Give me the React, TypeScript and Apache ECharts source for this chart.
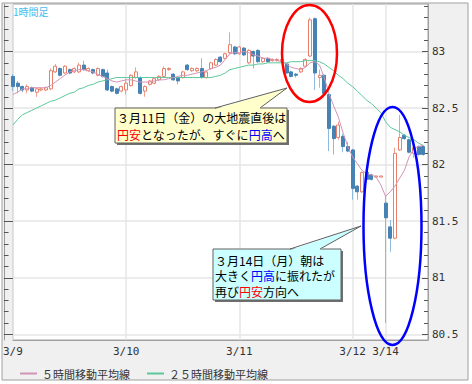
import React, { useEffect, useRef } from 'react';
import * as echarts from 'echarts';

// ---- data (USD/JPY hourly) ----
const dayLabels = ['3/9', '3/10', '3/11', '3/12', '3/14'];
const hoursInDay = [24, 24, 24, 7, 10]; // last hour of 3/14 is an empty slot
const categories: string[] = [];
dayLabels.forEach((d, k) => {
  for (let h = 0; h < hoursInDay[k]; h++) categories.push(`${d} ${h}:00`);
});

const openValues = [
  82.78, 82.72, 82.69, 82.66, 82.68, 82.64, 82.66, 82.66, 82.67, 82.82,
  82.85, 82.81, 82.84, 82.82, 82.82, 82.88, 82.83, 82.84, 82.79, 82.84,
  82.81, 82.69, 82.67, 82.65, 82.66, 82.70, 82.77, 82.77, 82.65, 82.71,
  82.72, 82.75, 82.78, 82.84, 82.80, 82.77, 82.77, 82.88, 82.83, 82.83,
  82.85, 82.77, 82.85, 82.88, 82.95, 82.94, 82.99, 83.04, 82.98, 83.03,
  82.90, 83.00, 83.01, 82.91, 82.94, 82.92, 82.92, 82.91, 82.89, 82.82,
  82.80, 82.82, 82.87, 82.96, 83.29, 82.77, 82.79, 82.62, 82.34, 82.24,
  82.25, 82.16, 82.13, 81.81, 81.76, 81.93, 81.91, 81.89, 81.89, 81.66,
  81.45, 81.35, 82.13, 82.26, 82.22, 82.10, 82.16, 82.16,
];
const closeValues = [
  82.69, 82.69, 82.66, 82.69, 82.65, 82.67, 82.67, 82.68, 82.83, 82.87,
  82.79, 82.87, 82.81, 82.85, 82.88, 82.84, 82.85, 82.81, 82.85, 82.78,
  82.66, 82.65, 82.63, 82.69, 82.72, 82.79, 82.82, 82.63, 82.69, 82.74,
  82.76, 82.78, 82.85, 82.85, 82.75, 82.74, 82.82, 82.84, 82.85, 82.85,
  82.77, 82.82, 82.90, 82.93, 82.91, 82.98, 83.06, 82.98, 83.04, 82.97,
  83.01, 82.96, 82.91, 82.94, 82.91, 82.93, 82.93, 82.93, 82.81, 82.78,
  82.79, 82.85, 82.93, 83.28, 82.81, 82.79, 82.63, 82.32, 82.23, 82.35,
  82.16, 82.12, 81.79, 81.76, 81.93, 81.87, 81.87, 81.90, 81.90, 81.53,
  81.35, 82.10, 82.24, 82.23, 82.11, 82.15, 82.09, 82.09,
];
const lowValues = [
  82.65, 82.63, 82.64, 82.63, 82.64, 82.60, 82.65, 82.65, 82.66, 82.81,
  82.78, 82.80, 82.80, 82.81, 82.81, 82.83, 82.82, 82.80, 82.78, 82.77,
  82.65, 82.64, 82.62, 82.64, 82.62, 82.69, 82.76, 82.62, 82.60, 82.70,
  82.71, 82.74, 82.77, 82.83, 82.74, 82.71, 82.76, 82.83, 82.82, 82.82,
  82.76, 82.76, 82.84, 82.87, 82.90, 82.93, 82.98, 82.97, 82.97, 82.96,
  82.89, 82.85, 82.90, 82.90, 82.90, 82.91, 82.91, 82.90, 82.80, 82.77,
  82.77, 82.81, 82.86, 82.95, 82.66, 82.68, 82.62, 82.12, 82.09, 82.22,
  82.11, 82.11, 81.69, 81.69, 81.75, 81.84, 81.86, 81.89, 81.89, 80.60,
  81.23, 81.34, 82.12, 82.22, 82.10, 82.06, 82.08, 82.08,
];
const highValues = [
  82.80, 82.74, 82.70, 82.71, 82.69, 82.68, 82.68, 82.69, 82.85, 82.89,
  82.86, 82.88, 82.85, 82.86, 82.90, 82.92, 82.86, 82.85, 82.86, 82.85,
  82.84, 82.70, 82.68, 82.70, 82.76, 82.80, 82.86, 82.78, 82.70, 82.75,
  82.77, 82.79, 82.87, 82.86, 82.81, 82.78, 82.83, 82.89, 82.86, 82.86,
  82.94, 82.83, 82.91, 82.94, 82.96, 82.99, 83.17, 83.05, 83.05, 83.04,
  83.02, 83.01, 83.02, 82.95, 82.95, 82.94, 82.94, 82.94, 82.90, 82.83,
  82.81, 82.86, 82.94, 83.30, 83.30, 82.84, 82.80, 82.63, 82.35, 82.38,
  82.27, 82.20, 82.14, 81.82, 81.94, 81.95, 81.92, 81.90, 81.90, 81.73,
  81.51, 82.15, 82.44, 82.27, 82.23, 82.16, 82.17, 82.17,
];
const ma5Values = [
  82.62, 82.64, 82.67, 82.67, 82.68, 82.68, 82.68, 82.68, 82.70, 82.73,
  82.76, 82.79, 82.82, 82.83, 82.84, 82.84, 82.83, 82.82, 82.80, 82.78,
  82.76, 82.74, 82.73, 82.74, 82.75, 82.75, 82.74, 82.73, 82.73, 82.73,
  82.74, 82.75, 82.75, 82.76, 82.77, 82.78, 82.79, 82.79, 82.80, 82.81,
  82.82, 82.83, 82.85, 82.86, 82.88, 82.93, 82.98, 82.99, 82.99, 83.00,
  82.99, 82.97, 82.96, 82.94, 82.94, 82.93, 82.92, 82.91, 82.89, 82.86,
  82.85, 82.84, 82.86, 82.90, 82.91, 82.88, 82.77, 82.63, 82.52, 82.42,
  82.28, 82.16, 82.07, 82.01, 81.95, 81.92, 81.91, 81.89, 81.82, 81.72,
  81.76, 81.81, 81.88, 81.95, 82.07, 82.14, 82.16, 82.17,
];
const ma25Values = [
  82.35, 82.40, 82.44, 82.46, 82.48, 82.50, 82.52, 82.54, 82.56, 82.57,
  82.59, 82.61, 82.63, 82.64, 82.67, 82.68, 82.70, 82.71, 82.73, 82.74,
  82.75, 82.76, 82.77, 82.77, 82.77, 82.77, 82.77, 82.77, 82.77, 82.77,
  82.77, 82.77, 82.77, 82.77, 82.77, 82.77, 82.77, 82.77, 82.77, 82.77,
  82.77, 82.77, 82.77, 82.78, 82.79, 82.81, 82.84, 82.85, 82.86, 82.87,
  82.88, 82.88, 82.89, 82.89, 82.90, 82.90, 82.90, 82.90, 82.90, 82.91,
  82.91, 82.91, 82.92, 82.92, 82.92, 82.91, 82.89, 82.86, 82.83, 82.79,
  82.76, 82.72, 82.69, 82.65, 82.61, 82.57, 82.54, 82.50, 82.46, 82.38,
  82.33, 82.31, 82.29, 82.26, 82.24, 82.22, 82.19, 82.17,
];
const majorTicks = [80.5, 81, 81.5, 82, 82.5, 83];
const minorTicks = [
  80.5, 80.6, 80.7, 80.8, 80.9, 81, 81.1, 81.2, 81.3, 81.4,
  81.5, 81.6, 81.7, 81.8, 81.9, 82, 82.1, 82.2, 82.3, 82.4,
  82.5, 82.6, 82.7, 82.8, 82.9, 83, 83.1, 83.2, 83.3, 83.4,
];
const yMin = 80.45;
const yMax = 83.42;
const ma5Name = '５時間移動平均線';
const ma25Name = '２５時間移動平均線';

const MONO = 'DejaVu Sans Mono';
const JP = 'Noto Sans CJK JP';

export default function App() {
  const ref = useRef<HTMLDivElement>(null);
  useEffect(() => {
    if (!ref.current) return;
    const chart = echarts.init(ref.current, undefined, { renderer: 'svg' });
    const ohlc = openValues.map((o, i) => [o, closeValues[i], lowValues[i], highValues[i]]);
    const bodies = openValues.map((o, i) => [
      o,
      closeValues[i],
      Math.min(o, closeValues[i]),
      Math.max(o, closeValues[i]),
    ]);
    const yBase = { type: 'value', min: yMin, max: yMax, splitLine: { show: false }, axisLabel: { show: false } };
    const rich = {
      a: { fill: '#000', fontFamily: JP, fontSize: 12 },
      r: { fill: '#ff0000', fontFamily: JP, fontSize: 12 },
      b: { fill: '#0000ff', fontFamily: JP, fontSize: 12 },
    };
    const option: any = {
      animation: false,
      backgroundColor: '#ffffff',
      grid: {
        left: 11.5,
        right: 44,
        top: 4,
        bottom: 44,
        show: true,
        backgroundColor: '#ffffff',
        borderColor: '#a0a0a0',
        borderWidth: 1,
      },
      legend: {
        left: 15,
        top: 363,
        icon: 'rect',
        itemWidth: 17,
        itemHeight: 2,
        itemGap: 17,
        data: [ma5Name, ma25Name],
        textStyle: { fontFamily: JP, fontSize: 11, color: '#333' },
      },
      xAxis: {
        type: 'category',
        data: categories,
        boundaryGap: false,
        axisLine: { show: true, lineStyle: { color: '#a0a0a0' } },
        axisTick: { show: false },
        axisLabel: {
          interval: (_i: number, v: string) => v.endsWith(' 0:00'),
          formatter: (v: string) => v.split(' ')[0],
          fontFamily: MONO,
          fontSize: 11,
          color: '#333',
          margin: 6,
        },
        splitLine: {
          show: true,
          interval: (_i: number, v: string) => v.endsWith(' 0:00'),
          lineStyle: { color: '#e6e6e6', width: 1.5 },
        },
      },
      yAxis: [
        {
          type: 'value',
          min: yMin,
          max: yMax,
          position: 'right',
          axisLine: { show: true, lineStyle: { color: '#a0a0a0' } },
          axisTick: { show: true, inside: true, length: 6, customValues: majorTicks, lineStyle: { color: '#555' } },
          axisLabel: {
            customValues: majorTicks,
            formatter: (v: number) => `${v}`,
            fontFamily: MONO,
            fontSize: 11,
            color: '#333',
            margin: 4,
          },
          splitLine: { show: true, lineStyle: { color: '#e6e6e6', width: 1.5 } },
        },
        {
          ...yBase,
          position: 'right',
          axisLine: { show: false },
          axisTick: { show: true, inside: true, length: 4, customValues: minorTicks, lineStyle: { color: '#555' } },
        },
        {
          ...yBase,
          position: 'left',
          offset: 9,
          axisLine: { show: true, lineStyle: { color: '#999' } },
          axisTick: { show: true, inside: true, length: 9, customValues: majorTicks, lineStyle: { color: '#555' } },
        },
        {
          ...yBase,
          position: 'left',
          offset: 9,
          axisLine: { show: false },
          axisTick: { show: true, inside: true, length: 4.6, customValues: minorTicks, lineStyle: { color: '#555' } },
        },
      ],
      series: [
        {
          type: 'candlestick',
          name: 'wick',
          data: ohlc,
          barWidth: 0.1,
          itemStyle: {
            color: 'transparent',
            color0: 'transparent',
            borderColor: '#f0a08e',
            borderColor0: '#8fb8dc',
            borderWidth: 1,
          },
        },
        {
          type: 'candlestick',
          name: 'body',
          data: bodies,
          barWidth: 3.5,
          itemStyle: {
            color: '#ffffff',
            color0: '#4682b4',
            borderColor: '#e8806c',
            borderColor0: '#4682b4',
            borderWidth: 1,
          },
        },
        {
          type: 'line',
          name: ma25Name,
          data: ma25Values,
          symbol: 'none',
          lineStyle: { color: '#5cc89a', width: 1 },
          itemStyle: { color: '#5cc89a' },
          z: 4,
        },
        {
          type: 'line',
          name: ma5Name,
          data: ma5Values,
          symbol: 'none',
          lineStyle: { color: '#d394b6', width: 1 },
          itemStyle: { color: '#d394b6' },
          z: 5,
        },
      ],
      graphic: [
        {
          type: 'rect',
          z: -100,
          shape: { x: 2, y: 3, width: 466, height: 377 },
          style: { fill: '#f0f0f0', stroke: '#a0a0a0', lineWidth: 1 },
        },
        {
          type: 'text',
          z: 100,
          x: 13,
          y: 6,
          style: { text: '1時間足', fill: '#44bbee', font: `10px "${JP}"`, verticalAlign: 'top' },
        },
        {
          type: 'ellipse',
          z: 100,
          shape: { cx: 309.5, cy: 53.5, rx: 27.5, ry: 48.5 },
          style: { fill: 'none', stroke: '#ff0000', lineWidth: 2.5 },
        },
        {
          type: 'ellipse',
          z: 100,
          shape: { cx: 392.5, cy: 226, rx: 29, ry: 119 },
          style: { fill: 'none', stroke: '#0000ff', lineWidth: 2.5 },
        },
        // callout 1
        { type: 'rect', z: 101, shape: { x: 117, y: 110, width: 172, height: 35 }, style: { fill: '#707070' } },
        {
          type: 'rect',
          z: 102,
          shape: { x: 115, y: 108, width: 172, height: 35 },
          style: { fill: '#ffffcc', stroke: '#606060', lineWidth: 1 },
        },
        {
          type: 'polygon',
          z: 103,
          shape: { points: [[215.5, 109], [287, 88], [259.5, 109]] },
          style: { fill: '#ffffcc' },
        },
        {
          type: 'polyline',
          z: 104,
          shape: { points: [[215, 108], [287, 88], [260, 108]] },
          style: { fill: 'none', stroke: '#606060', lineWidth: 1 },
        },
        {
          type: 'text',
          z: 105,
          x: 117,
          y: 109.5,
          style: {
            text: '{a|３月11日（金）の大地震直後は}\n{r|円安}{a|となったが、すぐに}{b|円高}{a|へ}',
            rich,
            lineHeight: 16.5,
            verticalAlign: 'top',
            font: `12px "${JP}"`,
          },
        },
        // callout 2
        { type: 'rect', z: 101, shape: { x: 215, y: 251, width: 128, height: 51 }, style: { fill: '#707070' } },
        {
          type: 'rect',
          z: 102,
          shape: { x: 213, y: 249, width: 128, height: 51 },
          style: { fill: '#ccffff', stroke: '#606060', lineWidth: 1 },
        },
        {
          type: 'polygon',
          z: 103,
          shape: { points: [[290.5, 250], [361, 226], [319.5, 250]] },
          style: { fill: '#ccffff' },
        },
        {
          type: 'polyline',
          z: 104,
          shape: { points: [[290, 249], [361, 226], [320, 249]] },
          style: { fill: 'none', stroke: '#606060', lineWidth: 1 },
        },
        {
          type: 'text',
          z: 105,
          x: 215,
          y: 252.5,
          style: {
            text: '{a|３月14日（月）朝は}\n{a|大きく}{b|円高}{a|に振れたが}\n{a|再び}{r|円安}{a|方向へ}',
            rich,
            lineHeight: 15.5,
            verticalAlign: 'top',
            font: `12px "${JP}"`,
          },
        },
      ],
    };
    chart.setOption(option);
    return () => chart.dispose();
  }, []);
  return (
    <div
      ref={ref}
      style={{ position: 'fixed', left: 0, top: 0, width: 472, height: 384 }}
    />
  );
}
